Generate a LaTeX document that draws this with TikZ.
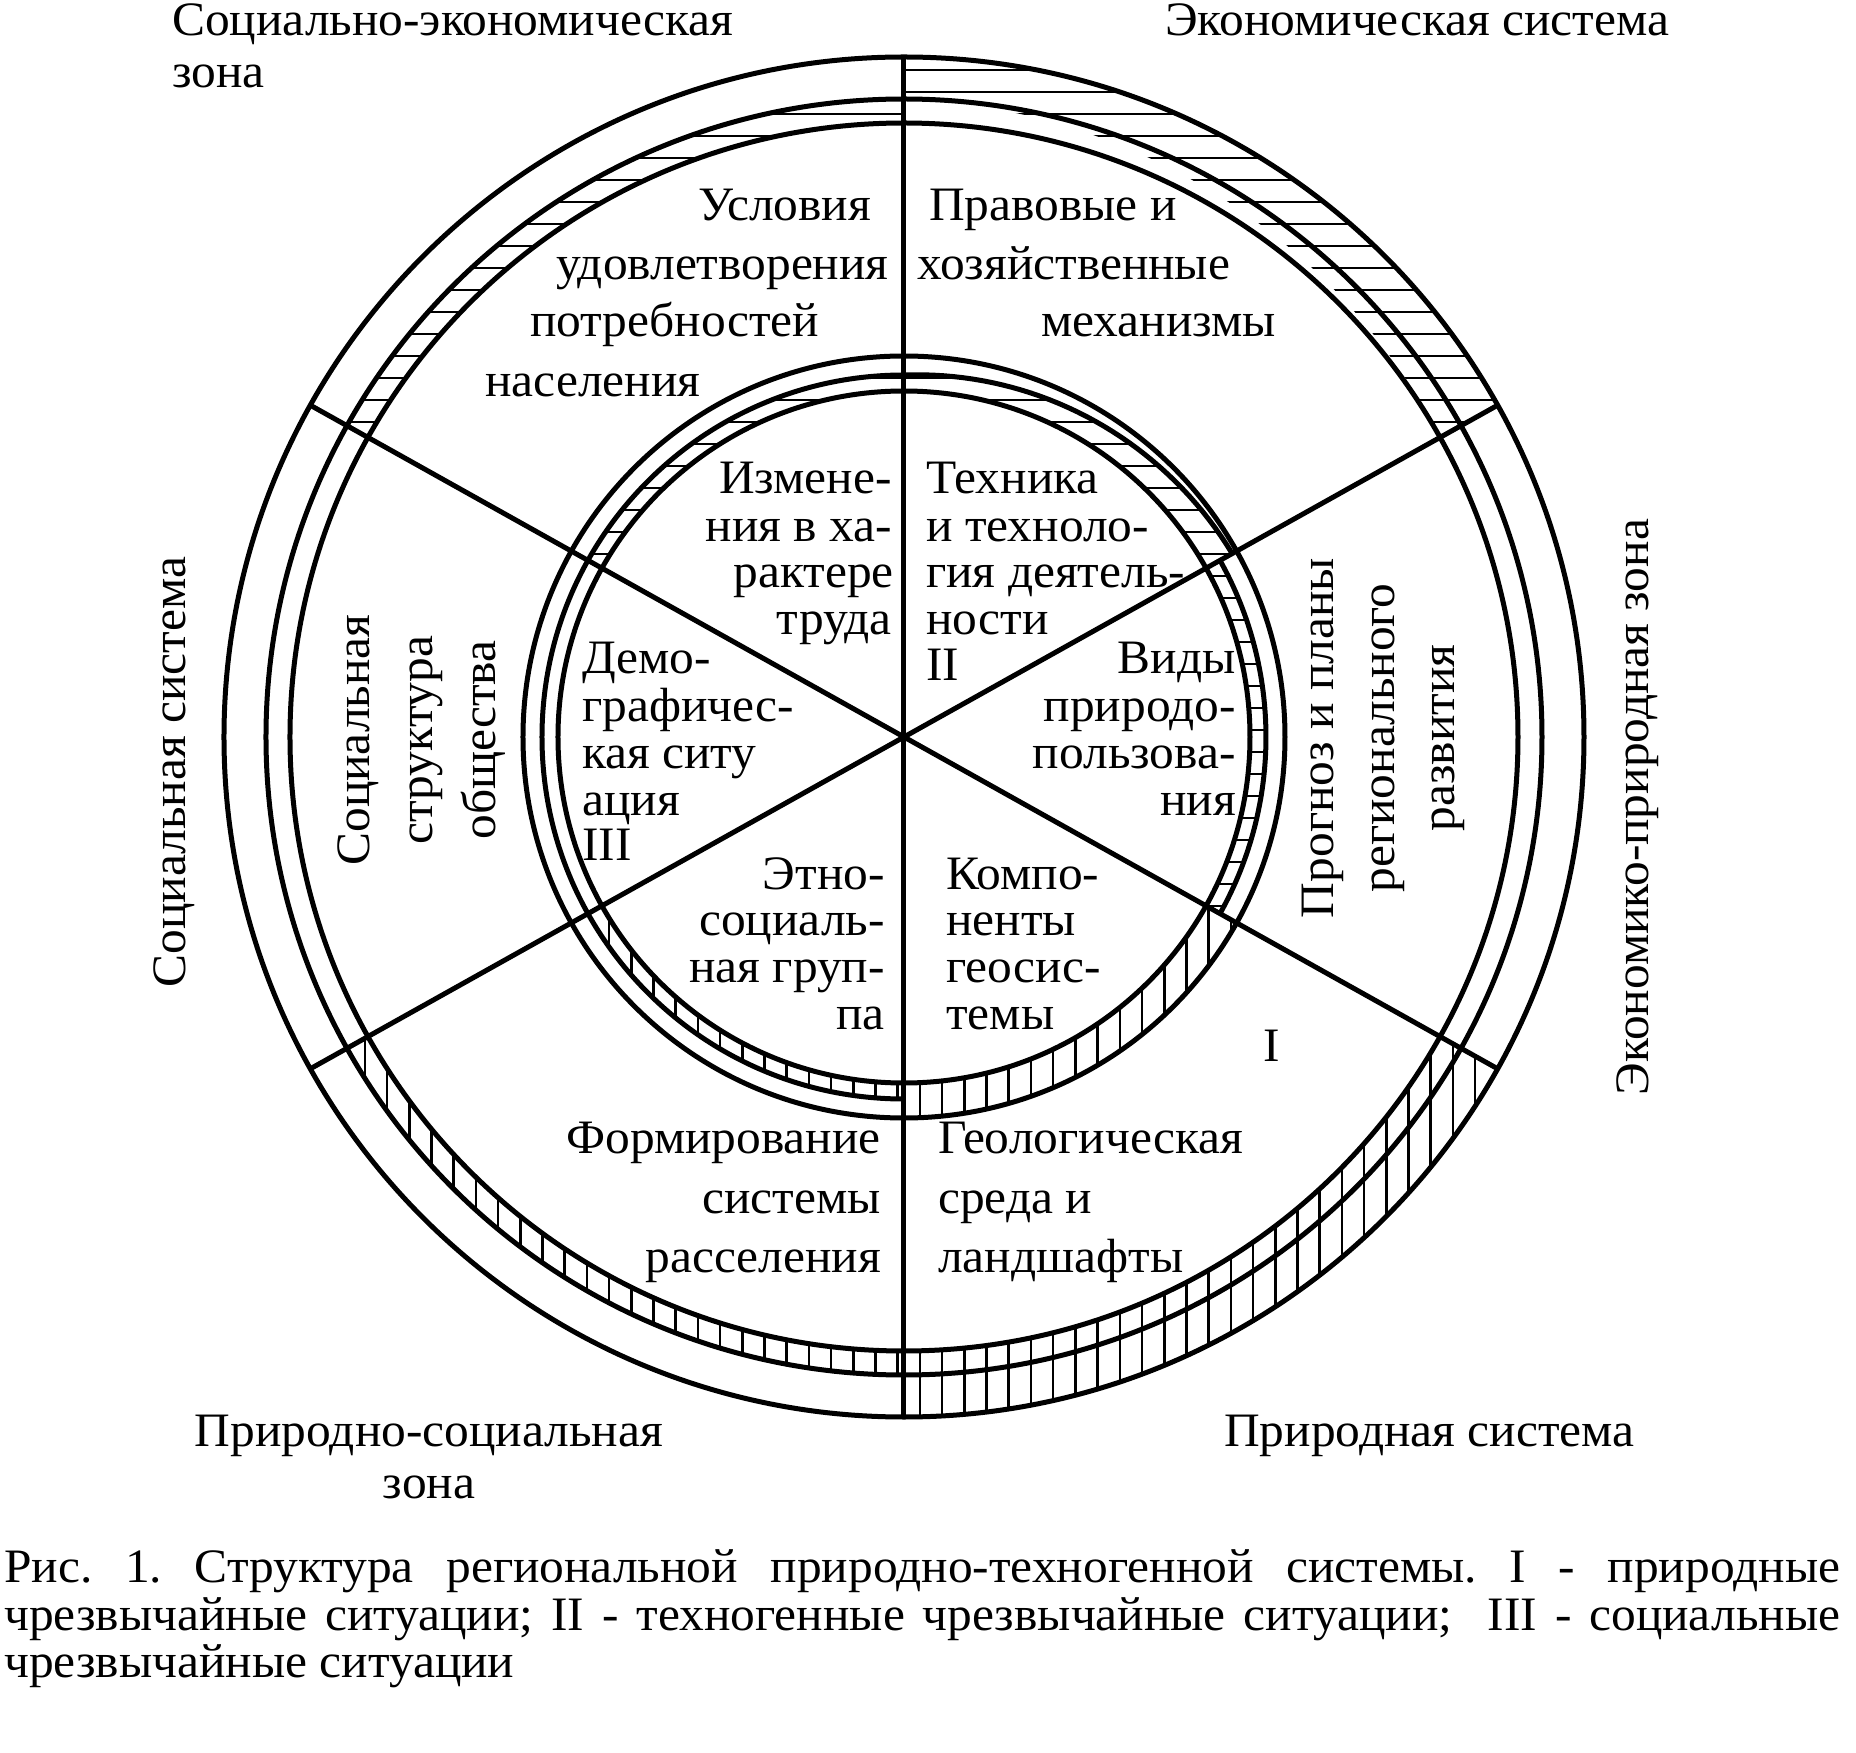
\documentclass[tikz,border=0pt]{standalone}
\usepackage{fontspec}
\setmainfont{Liberation Serif}[FakeStretch=1.03]
\frenchspacing
\tikzset{
  ring/.style={line width=5pt},
  spoke/.style={line width=5pt},
  hatchline/.style={line width=2.6pt},
  lbl/.style={inner sep=0pt, font=\fontsize{48}{58}\selectfont},
}
\newcommand\hhatch{\foreach \k in {0,...,49}{\draw[hatchline] (-720,{667-22*\k}) -- (720,{667-22*\k});}}
\newcommand\vhatch{\foreach \k in {-33,...,33}{\draw[hatchline] ({16+22.2*\k},-720) -- ({16+22.2*\k},720);}}
\newcommand\clipsec[4]{\clip (#1:#3pt) -- (#1:#4pt) arc[start angle=#1, end angle=#2, radius=#4pt] -- (#2:#3pt) arc[start angle=#2, end angle=#1, radius=#3pt] -- cycle;}
\begin{document}
\begin{tikzpicture}[x=1pt,y=1pt]
\useasboundingbox (-904,-1016) rectangle (952,737);
\coordinate (c) at (0,0);
% ---- hatching, outer rings
\begin{scope}
  \clip (29.2:680pt) arc[start angle=29.2, end angle=90, radius=680pt]
        -- plot[domain=90:29.2, samples=40] (\x:{614+24*(\x-29.2)/60.8}) -- cycle;
  \hhatch
\end{scope}
\begin{scope}\clipsec{90}{150.8}{614}{638}\hhatch\end{scope}
\begin{scope}\clipsec{270}{330.8}{614}{680}\vhatch\end{scope}
\begin{scope}\clipsec{209.2}{270}{614}{638}\vhatch\end{scope}
% ---- hatching, inner rings
\begin{scope}
  \clip (29.2:346pt) -- plot[domain=29.2:90, samples=40] (\x:{376-14*(\x-29.2)/60.8})
        -- (90:346pt) arc[start angle=90, end angle=29.2, radius=346pt] -- cycle;
  \hhatch
\end{scope}
\begin{scope}\clipsec{90}{150.8}{346}{362}\hhatch\end{scope}
\begin{scope}\clipsec{-29.2}{29.2}{346}{362}\hhatch\end{scope}
\begin{scope}\clipsec{270}{330.8}{346}{381}\vhatch\end{scope}
\begin{scope}\clipsec{209.2}{270}{346}{362}\vhatch\end{scope}
% ---- rings
\draw[ring] (c) circle[radius=680pt];
\draw[ring] (c) circle[radius=638pt];
\draw[ring] (c) circle[radius=614pt];
\draw[ring] (c) circle[radius=381pt];
\draw[ring] (-29.2:362pt) arc[start angle=-29.2, end angle=29.2, radius=362pt];
\draw[ring] plot[domain=29.2:90, samples=40] (\x:{376-14*(\x-29.2)/60.8});
\draw[ring] (90:362pt) arc[start angle=90, end angle=270, radius=362pt];
\draw[ring] (c) circle[radius=346pt];
% ---- spokes
\coordinate (pN) at (90:680pt);
\coordinate (pS) at (270:680pt);
\coordinate (pNE) at (29.2:680pt);
\coordinate (pNW) at (150.8:680pt);
\coordinate (pSW) at (209.2:680pt);
\coordinate (pSE) at (330.8:680pt);
\draw[spoke] (pN) -- (pS);
\draw[spoke] (pNE) -- (pSW);
\draw[spoke] (pNW) -- (pSE);
% ---- zone labels
\node[lbl, anchor=base west] (z1a) at (-732,701) {Социально-экономическая};
\node[lbl, anchor=base west] (z1b) at (-732,649) {зона};
\node[lbl, anchor=base west] (z2) at (261,701) {Экономическая система};
\node[lbl, anchor=base] (z3a) at (-475,-709) {Природно-социальная};
\node[lbl, anchor=base] (z3b) at (-475,-761) {зона};
\node[lbl, anchor=base west] (z4) at (320,-709) {Природная система};
\node[lbl, anchor=base, rotate=90] (z5) at (-718,-35) {Социальная система};
\node[lbl, anchor=base, rotate=90] (z6) at (744,-70) {Экономико-природная зона};
% ---- outer sector labels
\node[lbl, anchor=base west] (u1) at (-206,516) {Условия};
\node[lbl, anchor=base west] (u2) at (-348,457) {удовлетворения};
\node[lbl, anchor=base west] (u3) at (-374,400) {потребностей};
\node[lbl, anchor=base west] (u4) at (-419,340) {населения};
\node[lbl, anchor=base west] (p1) at (25,516) {Правовые и};
\node[lbl, anchor=base west] (p2) at (13,457) {хозяйственные};
\node[lbl, anchor=base west] (p3) at (137,400) {механизмы};
\node[lbl, anchor=base east] (f1) at (-23,-416) {Формирование};
\node[lbl, anchor=base east] (f2) at (-23,-476) {системы};
\node[lbl, anchor=base east] (f3) at (-23,-535) {расселения};
\node[lbl, anchor=base west] (g1) at (34,-416) {Геологическая};
\node[lbl, anchor=base west] (g2) at (34,-476) {среда и};
\node[lbl, anchor=base west] (g3) at (34,-535) {ландшафты};
\node[lbl, anchor=base, rotate=90] (s1) at (-534,-3) {Социальная};
\node[lbl, anchor=base, rotate=90] (s2) at (-471,-3) {структура};
\node[lbl, anchor=base, rotate=90] (s3) at (-408,-3) {общества};
\node[lbl, anchor=base, rotate=90] (r1) at (429,-1) {Прогноз и планы};
\node[lbl, anchor=base, rotate=90] (r2) at (490,-1) {регионального};
\node[lbl, anchor=base, rotate=90] (r3) at (550,-1) {развития};
\node[lbl, anchor=base west] (nI) at (359,-324) {I};
% ---- inner sector labels
\node[lbl, anchor=base east] (i1) at (-12,243) {Измене-};
\node[lbl, anchor=base east] (i2) at (-12,195) {ния в ха-};
\node[lbl, anchor=base east] (i3) at (-10,149) {рактере};
\node[lbl, anchor=base east] (i4) at (-12,102) {труда};
\node[lbl, anchor=base west] (t1) at (22,243) {Техника};
\node[lbl, anchor=base west] (t2) at (22,195) {и техноло-};
\node[lbl, anchor=base west] (t3) at (22,149) {гия деятель-};
\node[lbl, anchor=base west] (t4) at (22,102) {ности};
\node[lbl, anchor=base west] (t5) at (22,56) {II};
\node[lbl, anchor=base west] (d1) at (-322,63) {Демо-};
\node[lbl, anchor=base west] (d2) at (-322,15) {графичес-};
\node[lbl, anchor=base west] (d3) at (-322,-32) {кая ситу};
\node[lbl, anchor=base west] (d4) at (-322,-79) {ация};
\node[lbl, anchor=base west] (d5) at (-322,-124) {III};
\node[lbl, anchor=base east] (v1) at (332,63) {Виды};
\node[lbl, anchor=base east] (v2) at (332,15) {природо-};
\node[lbl, anchor=base east] (v3) at (332,-32) {пользова-};
\node[lbl, anchor=base east] (v4) at (332,-79) {ния};
\node[lbl, anchor=base east] (e1) at (-19,-153) {Этно-};
\node[lbl, anchor=base east] (e2) at (-19,-198) {социаль-};
\node[lbl, anchor=base east] (e3) at (-19,-245) {ная груп-};
\node[lbl, anchor=base east] (e4) at (-19,-292) {па};
\node[lbl, anchor=base west] (k1) at (42,-153) {Компо-};
\node[lbl, anchor=base west] (k2) at (42,-198) {ненты};
\node[lbl, anchor=base west] (k3) at (42,-245) {геосис-};
\node[lbl, anchor=base west] (k4) at (42,-292) {темы};
% ---- caption
\node[lbl, anchor=base west] (cap1) at (-900,-845) {\makebox[1836pt][s]{Рис. 1. Структура региональной природно-техногенной системы. I - природные}};
\node[lbl, anchor=base west] (cap2) at (-900,-893) {\makebox[1836pt][s]{чрезвычайные ситуации; II - техногенные чрезвычайные ситуации;\ \ III - социальные}};
\node[lbl, anchor=base west] (cap3) at (-900,-940) {чрезвычайные ситуации};
\end{tikzpicture}
\end{document}
